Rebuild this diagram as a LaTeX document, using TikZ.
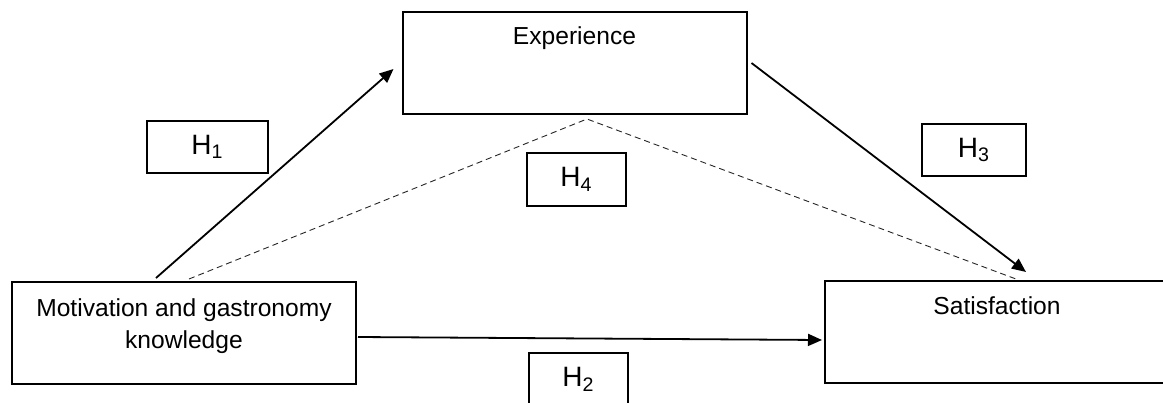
\documentclass[tikz,border=0pt]{standalone}
\usepackage{fontspec}
\setmainfont{Liberation Sans}
\usetikzlibrary{arrows.meta,calc}
\begin{document}
\begin{tikzpicture}[x=0.5pt,y=-0.5pt,
  font=\fontsize{12.3}{14}\selectfont,
  bigbox/.style={draw,line width=1pt,rectangle,inner sep=0pt,minimum width=172pt,minimum height=51pt},
  hbox/.style={draw,line width=0.8pt,rectangle,inner sep=0pt,minimum height=26pt,font=\fontsize{14}{16}\selectfont},
  txt/.style={inner sep=0pt,align=center},
  arr/.style={line width=0.9pt,-{Triangle[length=7pt,width=6pt]}},
  dsh/.style={line width=0.45pt,black!85,dash pattern=on 3pt off 2pt}]
\useasboundingbox (0,0) rectangle (1163,402);
% main boxes
\node[bigbox] (exp) at (574.5,63) {};
\node[bigbox] (mot) at (184,333) {};
\node[bigbox] (sat) at (997,332) {};
\node[txt,anchor=base] (expt) at (574.5,44) {Experience};
\node[txt,anchor=base] (satt) at (997,314) {Satisfaction};
\node[txt,font=\fontsize{12.3}{16}\selectfont] (mott) at (184,326) {Motivation and gastronomy\\knowledge};
% hypothesis boxes
\node[hbox,minimum width=60.5pt] (h1) at (207.5,147) {H\textsubscript{1}};
\node[hbox,minimum width=52pt] (h3) at (974,150) {H\textsubscript{3}};
\node[hbox,minimum width=49.5pt,minimum height=26.5pt] (h4) at (576.5,179.5) {H\textsubscript{4}};
\node[hbox,minimum width=49.5pt,minimum height=26.5pt] (h2) at (578.5,379.5) {H\textsubscript{2}};
% connectors
\coordinate (apex) at ($(exp.south)+(12.5,4)$);
\draw[arr] ($(mot.north west)+(145,-3)$) -- ($(exp.west)+(-8,6)$);
\draw[arr] ($(exp.east)+(4,0)$) -- ($(sat.north west)+(202,-8)$);
\draw[arr] ($(mot.east)+(1,4)$) -- ($(sat.west)+(-2,8)$);
\draw[dsh] ($(mot.north west)+(178,-2)$) -- (apex) -- ($(sat.north west)+(192,-1)$);
\end{tikzpicture}
\end{document}
